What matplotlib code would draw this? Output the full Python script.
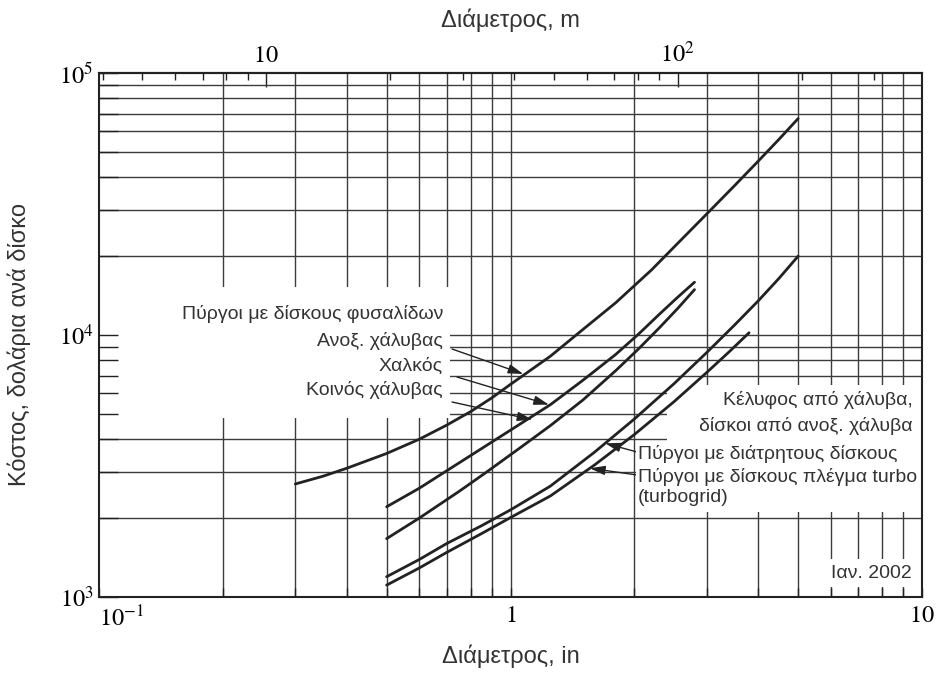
import matplotlib
matplotlib.use('Agg')
import matplotlib.pyplot as plt
from matplotlib.ticker import FixedLocator, FixedFormatter, NullFormatter
from matplotlib.patches import Rectangle

plt.rcParams['font.family'] = ['Liberation Sans', 'DejaVu Sans']
plt.rcParams['mathtext.fontset'] = 'stix'

# values: diameter (in) -> cost ($ per tray)
bubble_d = [0.3, 0.35, 0.4, 0.5, 0.6, 0.7, 0.8, 0.9, 1.0, 1.25, 1.5, 1.8, 2.2, 2.6,
            3.0, 3.5, 4.0, 4.5, 5.0]
bubble_cost = [2700, 2890, 3100, 3530, 4000, 4530, 5100, 5750, 6480, 8300, 10500, 13260,
               17700, 23100, 29000, 37100, 46100, 56000, 67000]
copper_d = [0.5, 0.6, 0.75, 0.9, 1.05, 1.25, 1.5, 1.8, 2.05, 2.3, 2.55, 2.8]
copper_cost = [2210, 2600, 3250, 3900, 4550, 5420, 6720, 8420, 10100, 12000, 13950, 15900]
carbon_d = [0.5, 0.6, 0.75, 0.87, 1.05, 1.25, 1.5, 1.8, 2.05, 2.3, 2.55, 2.8]
carbon_cost = [1670, 2000, 2530, 2980, 3690, 4510, 5650, 7300, 8870, 10650, 12640, 14900]
sieve_d = [0.5, 0.6, 0.7, 0.85, 1.0, 1.25, 1.6, 2.0, 2.5, 3.0, 3.5, 4.0, 4.5, 5.0]
sieve_cost = [1195, 1390, 1600, 1870, 2150, 2650, 3570, 4780, 6530, 8580, 10900, 13500,
              16500, 20000]
turbo_d = [0.5, 0.6, 0.7, 0.85, 1.0, 1.25, 1.6, 2.0, 2.5, 3.0, 3.4, 3.8]
turbo_cost = [1110, 1290, 1480, 1745, 2010, 2430, 3190, 4170, 5575, 7200, 8630, 10200]

grid_x = [0.2, 0.3, 0.4, 0.5, 0.6, 0.7, 0.8, 0.9, 1, 2, 3, 4, 5, 6, 7, 8, 9]
grid_y = [2e3, 3e3, 4e3, 5e3, 6e3, 7e3, 8e3, 9e3, 1e4,
          2e4, 3e4, 4e4, 5e4, 6e4, 7e4, 8e4, 9e4]
top_minor = [4, 5, 6, 7, 8, 9, 20, 30, 40, 50, 60, 70, 80, 90, 200, 300]
m_per_in = 39.2   # top scale as drawn on the chart

ink = '#222222'
txt = '#333333'

W, H = 938, 679
def fp(x, y):
    return (x / W, 1 - y / H)

fig = plt.figure(figsize=(W / 100, H / 100), dpi=100)
ax = fig.add_axes([99 / W, 1 - 597 / H, (922 - 99) / W, (597 - 73) / H])
ax.set_xscale('log')
ax.set_yscale('log')
ax.set_xlim(0.1, 10)
ax.set_ylim(1e3, 1e5)

# grid, with blank areas behind the labels like the printed chart
ax.vlines(grid_x, 1e3, 1e5, colors='#3c3c3c', lw=1.0, zorder=0.8)
ax.hlines(grid_y, 0.1, 10, colors='#3c3c3c', lw=1.0, zorder=0.8)
ax.add_patch(Rectangle((0.1, 4820), 0.613, 15240 - 4820, fc='white', ec='none', zorder=1))
ax.add_patch(Rectangle((2.4, 2110), 7.6, 6440 - 2110, fc='white', ec='none', zorder=1))

for d, c in [(bubble_d, bubble_cost), (copper_d, copper_cost), (carbon_d, carbon_cost),
             (sieve_d, sieve_cost), (turbo_d, turbo_cost)]:
    ax.plot(d, c, color=ink, lw=2.0, zorder=3, solid_capstyle='round',
            solid_joinstyle='round')

for s in ax.spines.values():
    s.set_linewidth(1.5)
    s.set_color(ink)

ax.xaxis.set_major_locator(FixedLocator([0.1, 1, 10]))
ax.xaxis.set_major_formatter(FixedFormatter(['$10^{-1}$', '$1$', '$10$']))
ax.xaxis.set_minor_locator(FixedLocator([v for v in grid_x if v != 1]))
ax.xaxis.set_minor_formatter(NullFormatter())
ax.yaxis.set_major_locator(FixedLocator([1e3, 1e4, 1e5]))
ax.yaxis.set_major_formatter(FixedFormatter(['$10^3$', '$10^4$', '$10^5$']))
ax.yaxis.set_minor_locator(FixedLocator(grid_y))
ax.yaxis.set_minor_formatter(NullFormatter())
ax.tick_params(axis='y', which='both', direction='in', length=14, width=1.0,
               color=ink, left=True, right=False, labelsize=17.5, pad=4)
ax.tick_params(axis='x', which='both', direction='in', length=6.5, width=1.0,
               color=ink, bottom=True, top=False, labelsize=17.5, pad=6)
ax.get_xticklabels()[0].set_horizontalalignment('left')

sec = ax.secondary_xaxis('top', functions=(lambda d: d * m_per_in, lambda m: m / m_per_in))
sec.xaxis.set_major_locator(FixedLocator([10, 100]))
sec.xaxis.set_major_formatter(FixedFormatter(['$10$', '$10^2$']))
sec.xaxis.set_minor_locator(FixedLocator(top_minor))
sec.xaxis.set_minor_formatter(NullFormatter())
sec.tick_params(which='major', direction='in', length=10, width=1.0, color=ink,
                labelsize=17.5, pad=4)
sec.tick_params(which='minor', direction='in', length=5, width=1.0, color=ink)
sec.spines['top'].set_linewidth(1.5)

fig.text(*fp(510, 20), 'Διάμετρος, m', ha='center', va='center', fontsize=17, color=txt)
fig.text(*fp(511, 656), 'Διάμετρος, in', ha='center', va='center', fontsize=17, color=txt)
fig.text(*fp(19, 345), 'Κόστος, δολάρια ανά δίσκο', ha='center', va='center',
         rotation=90, fontsize=17, color=txt)

fs = 14
for label, y in [('Πύργοι με δίσκους φυσαλίδων', 314), ('Ανοξ. χάλυβας', 341),
                 ('Χαλκός', 366), ('Κοινός χάλυβας', 390)]:
    fig.text(*fp(443, y), label, ha='right', va='center', fontsize=fs, color=txt)

box = dict(fc='white', ec='none', pad=1.5)
fig.text(*fp(913, 400), 'Κέλυφος από χάλυβα,', ha='right', va='center', fontsize=fs,
         color=txt, bbox=box, zorder=2)
fig.text(*fp(913, 426), 'δίσκοι από ανοξ. χάλυβα', ha='right', va='center', fontsize=fs,
         color=txt, bbox=box, zorder=2)
fig.text(*fp(638, 454), 'Πύργοι με διάτρητους δίσκους', ha='left', va='center', fontsize=fs,
         color=txt, bbox=box, zorder=2)
fig.text(*fp(638, 477), 'Πύργοι με δίσκους πλέγμα turbo', ha='left', va='center', fontsize=fs,
         color=txt, bbox=box, zorder=2)
fig.text(*fp(638, 498), '(turbogrid)', ha='left', va='center', fontsize=fs,
         color=txt, bbox=box, zorder=2)
fig.text(*fp(912, 573), 'Ιαν. 2002', ha='right', va='center', fontsize=fs,
         color=txt, bbox=dict(fc='white', ec='none', pad=4), zorder=2)

arrow = dict(arrowstyle='-|>,head_length=0.65,head_width=0.2', lw=1.0, color=ink,
             shrinkA=0, shrinkB=0, mutation_scale=14)
for head, tail in [((1.074, 7100), (452, 349)), ((1.24, 5420), (457, 377)),
                   ((1.13, 4750), (452, 402)), ((1.70, 3860), (637, 452)),
                   ((1.56, 3100), (637, 475))]:
    ax.annotate('', xy=head, xycoords='data', xytext=fp(*tail),
                textcoords='figure fraction', arrowprops=arrow, zorder=4)

fig.savefig('out.png', dpi=100)
